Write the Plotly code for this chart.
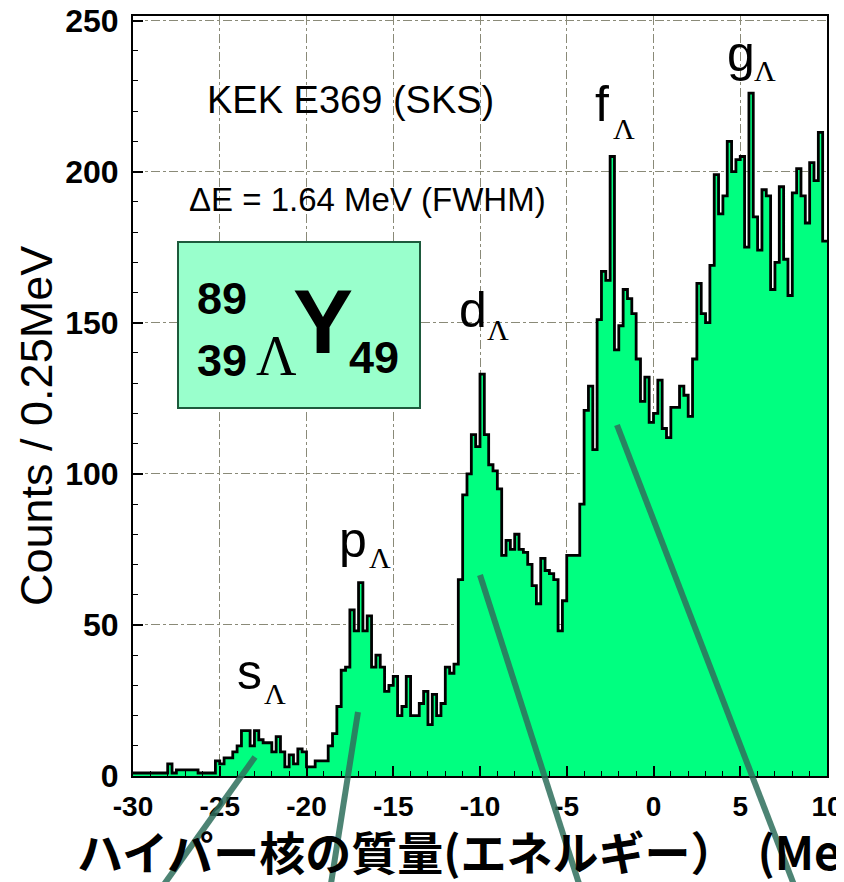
import numpy as np
import plotly.graph_objects as go

# ---------------- data ----------------
bin_start = -30.0
bin_width = 0.25  # MeV
counts = [
    1, 1, 1, 1, 1, 1, 1, 1, 4, 1,          # -30.0 .. -27.75
    2, 2, 2, 2, 2, 1, 1, 1, 1, 5,          # -27.5 .. -25.25
    4, 6, 6, 8, 10, 15, 15, 10, 15, 12,    # -25.0 .. -22.75
    11, 11, 8, 13, 8, 3, 7, 4, 9, 8,       # -22.5 .. -20.25
    3, 3, 5, 5, 5, 10, 14, 23, 35, 36,     # -20.0 .. -17.75
    55, 48, 64, 48, 53, 36, 40, 36, 28, 30,  # -17.5 .. -15.25
    33, 20, 23, 33, 20, 20, 24, 28, 17, 27,  # -15.0 .. -12.75
    20, 24, 36, 34, 37, 65, 93, 100, 113, 109,  # -12.5 .. -10.25
    133, 113, 103, 101, 95, 73, 78, 75, 80, 75,  # -10.0 .. -7.75
    74, 70, 63, 57, 72, 68, 67, 65, 48, 58,      # -7.5 .. -5.25
    73, 73, 73, 90, 121, 129, 108, 151, 167, 164,  # -5.0 .. -2.75
    205, 141, 149, 161, 158, 153, 138, 124, 132, 117,  # -2.5 .. -0.25
    120, 131, 115, 112, 122, 122, 129, 126, 119, 138,  # 0.0 .. 2.25
    163, 153, 150, 169, 199, 186, 192, 210, 200, 204,  # 2.5 .. 4.75
    205, 175, 226, 185, 174, 194, 192, 161, 170, 195,  # 5.0 .. 7.25
    171, 159, 193, 201, 192, 183, 203, 197, 213, 177,  # 7.5 .. 9.75
]
x_ticks = [-30, -25, -20, -15, -10, -5, 0, 5, 10]
y_ticks = [0, 50, 100, 150, 200, 250]
peak_labels = ["s", "p", "d", "f", "g"]

# ---------------- figure ----------------
W, H = 844, 882
OFF = 8  # page body margin
ML, MT = 125, 8
MR, MB = 25, 114
PW, PH = W - ML - MR, H - MT - MB


def px(xs):
    """screen x -> paper x"""
    return (xs - OFF - ML) / PW


def py(ys):
    """screen y -> paper y"""
    return (H - MB - (ys - OFF)) / PH


edges = bin_start + bin_width * np.arange(len(counts) + 1)
xs = list(edges)
ys = list(counts) + [counts[-1]]

fig = go.Figure()
fig.add_trace(go.Scatter(
    x=xs, y=ys, mode="lines",
    line=dict(shape="hv", color="black", width=2.8),
    fill="tozeroy", fillcolor="#00FF80",
    hoverinfo="skip", showlegend=False,
))

x_tick_font = dict(family="Liberation Sans, Arial, sans-serif", size=28,
                   color="black", weight="bold")
y_tick_font = dict(family="Liberation Sans, Arial, sans-serif", size=32,
                   color="black", weight="bold")
grid_col = "#8a8a78"

fig.update_layout(
    width=W, height=H,
    margin=dict(l=ML, r=MR, t=MT, b=MB, autoexpand=False),
    paper_bgcolor="white", plot_bgcolor="white",
    showlegend=False,
    xaxis=dict(
        range=[-30, 10], tickvals=x_ticks, ticktext=[str(v) for v in x_ticks],
        ticks="inside", ticklen=10, tickwidth=1.5, tickcolor="black",
        minor=dict(dtick=1, ticks="inside", ticklen=5, tickcolor="black",
                   tickwidth=1, showgrid=False),
        showgrid=True, gridcolor=grid_col, griddash="dashdot", gridwidth=1,
        showline=True, linecolor="black", linewidth=2, mirror=True,
        zeroline=False, layer="above traces", tickfont=x_tick_font,
        automargin=False, ticklabelstandoff=4, ticklabeloverflow="allow",
    ),
    yaxis=dict(
        range=[0, 251.5], tickvals=y_ticks, ticktext=[str(v) for v in y_ticks],
        ticks="inside", ticklen=10, tickwidth=1.5, tickcolor="black",
        minor=dict(dtick=10, ticks="inside", ticklen=5, tickcolor="black",
                   tickwidth=1, showgrid=False),
        showgrid=True, gridcolor=grid_col, griddash="dashdot", gridwidth=1,
        showline=True, linecolor="black", linewidth=2, mirror=True,
        zeroline=False, layer="above traces", tickfont=y_tick_font,
        automargin=False, ticklabelstandoff=6, ticklabeloverflow="allow",
    ),
)

sans = "Liberation Sans, Arial, sans-serif"
serif = "Liberation Serif, Times New Roman, serif"
ann = []


def add_text(text, xp, yp, size, family=sans, bold=False, angle=0,
             xanchor="center", yanchor="middle"):
    ann.append(dict(
        text=text, x=px(xp), y=py(yp), xref="paper", yref="paper",
        showarrow=False, xanchor=xanchor, yanchor=yanchor, textangle=angle,
        font=dict(family=family, size=size, color="black",
                  weight="bold" if bold else "normal"),
    ))


# Axis titles
add_text("Counts / 0.25MeV", 36, 426, 45, angle=-90)
add_text("ハイパー核の質量(エネルギー）  (MeV)", 75, 850, 46,
         family="Noto Sans CJK JP", bold=True, xanchor="left")

# Experiment info
add_text("KEK E369 (SKS)", 350, 100, 38)
add_text("ΔE = 1.64 MeV (FWHM)", 367, 200, 33)

# Nucleus box
fig.add_shape(type="rect", xref="paper", yref="paper",
              x0=px(178), x1=px(420), y0=py(408), y1=py(242),
              fillcolor="#99FFCC", line=dict(color="#1d5a3c", width=2),
              layer="above")
add_text("89", 222, 298, 45, bold=True)
add_text("39", 222, 360, 45, bold=True)
add_text("Λ", 276, 356, 56, family=serif)
add_text("Y", 323, 322, 90, bold=True)
add_text("49", 374, 358, 45, bold=True)

# Peak labels
letter_pos = [(249, 672), (353, 540), (473, 310), (602, 104), (741, 54)]
lam_pos = [(275, 693), (380, 557), (498, 329), (624, 128), (765, 71)]
for lab, (lx, ly), (mx, my) in zip(peak_labels, letter_pos, lam_pos):
    add_text(lab, lx, ly, 50)
    add_text("Λ", mx, my, 30, family=serif)

fig.update_layout(annotations=ann)

# Pointer lines from peaks down to the axis title
pointer_lines = [((255, 757), (160, 890)), ((358, 712), (330, 890)),
                 ((480, 575), (581, 890)), ((617, 425), (796, 890))]
for (x0, y0), (x1, y1) in pointer_lines:
    fig.add_shape(type="line", xref="paper", yref="paper",
                  x0=px(x0), y0=py(y0), x1=px(x1), y1=py(y1),
                  line=dict(color="#2f6f5c", width=6), opacity=0.85,
                  layer="above")

fig.write_html("out.html")
